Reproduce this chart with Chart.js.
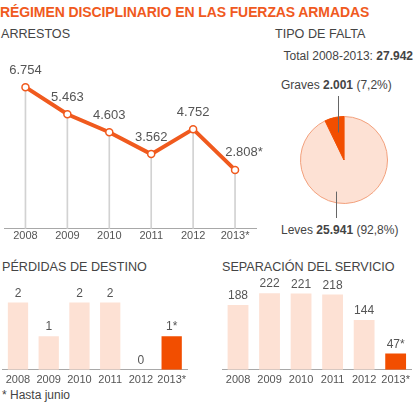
<!DOCTYPE html>
<html lang="es">
<head>
<meta charset="utf-8">
<script src="https://cdn.jsdelivr.net/npm/chart.js@4.4.0/dist/chart.umd.min.js"></script>
<style>
  body {
    margin: 0;
    width: 414px;
    height: 405px;
    position: relative;
    overflow: hidden;
    background: #fff;
    font-family: "Liberation Sans", Arial, sans-serif;
    color: #444;
  }
  .txt { position: absolute; white-space: nowrap; line-height: 16px; }
  .title { left: 0; top: 4px; font-size: 14px; font-weight: bold; color: #f05a1e; letter-spacing: -0.1px; }
  .head { font-size: 12.6px; color: #444; }
  .small { font-size: 12px; color: #444; }
  canvas { position: absolute; }
</style>
</head>
<body>
<div class="txt title">RÉGIMEN DISCIPLINARIO EN LAS FUERZAS ARMADAS</div>
<div class="txt head" style="left:1px;top:26px">ARRESTOS</div>
<div class="txt head" style="left:275px;top:26px">TIPO DE FALTA</div>
<div class="txt small" id="total" style="right:1px;top:48px"></div>
<div class="txt small" id="gravesLabel" style="left:281px;top:77px"></div>
<div class="txt small" id="levesLabel" style="left:281px;top:222px"></div>
<div class="txt head" style="left:2px;top:259px">PÉRDIDAS DE DESTINO</div>
<div class="txt head" style="left:222px;top:259px">SEPARACIÓN DEL SERVICIO</div>
<div class="txt small" style="left:2px;top:387px">* Hasta junio</div>

<canvas id="arrestChart" width="269" height="184" style="left:-1px;top:60px"></canvas>
<canvas id="faltaChart" width="128" height="128" style="left:280px;top:96px"></canvas>
<canvas id="destinoChart" width="188" height="116" style="left:2px;top:275px"></canvas>
<canvas id="separacionChart" width="192" height="116" style="left:222px;top:275px"></canvas>

<script>
const years = ["2008", "2009", "2010", "2011", "2012", "2013*"];
const arrests = [6754, 5463, 4603, 3562, 4752, 2808];
const faltaTypes = ["Leves", "Graves"];
const faltaValues = [25941, 2001];
const faltaPercents = [92.8, 7.2];
const destinoLosses = [2, 1, 2, 2, 0, 1];
const serviceSeparations = [188, 222, 221, 218, 144, 47];

const palette = {
  orange: "#f05a1e",
  strong: "#f24e00",
  light: "#fde1d4",
  pieEdge: "#f2a07c",
  ink: "#555",
  axis: "#a8a8a8",
  drop: "#d2d2d2",
};

const dotFormatter = new Intl.NumberFormat("de-DE");
const commaFormatter = new Intl.NumberFormat("de-DE", { minimumFractionDigits: 1, maximumFractionDigits: 1 });

Chart.defaults.font.family = '"Liberation Sans", Arial, sans-serif';
Chart.defaults.animation = false;

function withMark(values) {
  return values.map((v, i) => dotFormatter.format(v) + (years[i].endsWith("*") ? "*" : ""));
}

// draws the numbers above each bar / point
const valueLabels = {
  id: "valueLabels",
  afterDatasetsDraw(chart, args, opts) {
    if (!opts.texts) return;
    const meta = chart.getDatasetMeta(opts.datasetIndex || 0);
    const ctx = chart.ctx;
    ctx.save();
    ctx.font = opts.font;
    ctx.fillStyle = palette.ink;
    ctx.textAlign = "center";
    ctx.textBaseline = "middle";
    meta.data.forEach((el, i) => {
      const shift = i === meta.data.length - 1 ? opts.lastShift || 0 : 0;
      ctx.fillText(opts.texts[i], el.x + shift, el.y - opts.gap);
    });
    ctx.restore();
  },
};

// leader lines for the pie labels
const pieLeaders = {
  id: "pieLeaders",
  afterDatasetsDraw(chart, args, opts) {
    if (!opts.enabled) return;
    const arcs = chart.getDatasetMeta(0).data;
    const ctx = chart.ctx;
    ctx.save();
    ctx.strokeStyle = "#666";
    ctx.lineWidth = 1;

    const graves = arcs[1];
    const gMid = (graves.startAngle + graves.endAngle) / 2;
    const gx = graves.x + Math.cos(gMid) * graves.outerRadius * 0.65;
    const gy = graves.y + Math.sin(gMid) * graves.outerRadius * 0.65;
    ctx.beginPath();
    ctx.moveTo(Math.round(gx) + 0.5, 0);
    ctx.lineTo(Math.round(gx) + 0.5, gy);
    ctx.stroke();

    const leves = arcs[0];
    const lAng = Math.PI * 0.58;
    const lx = leves.x + Math.cos(lAng) * leves.outerRadius * 0.75;
    const ly = leves.y + Math.sin(lAng) * leves.outerRadius * 0.75;
    ctx.beginPath();
    ctx.moveTo(Math.round(lx) + 0.5, ly);
    ctx.lineTo(Math.round(lx) + 0.5, chart.height - 6);
    ctx.stroke();
    ctx.restore();
  },
};

Chart.register(valueLabels, pieLeaders);

function yearAxis(padding) {
  return {
    grid: { display: false, drawTicks: false },
    border: { display: true, color: palette.axis, width: 1 },
    ticks: { color: palette.ink, font: { size: 11 }, padding, maxRotation: 0, autoSkip: false },
  };
}

function renderArrests() {
  new Chart(document.getElementById("arrestChart"), {
    data: {
      labels: years,
      datasets: [
        {
          type: "line",
          data: arrests,
          borderColor: palette.orange,
          borderWidth: 4,
          tension: 0,
          pointRadius: 3.5,
          pointBorderWidth: 1.5,
          pointBackgroundColor: "#fff",
          pointBorderColor: palette.orange,
          order: 0,
        },
        {
          type: "bar",
          data: arrests,
          backgroundColor: palette.drop,
          barThickness: 1,
          order: 1,
        },
      ],
    },
    options: {
      responsive: false,
      layout: { padding: { top: 22, left: 0, right: 12, bottom: 0 } },
      plugins: {
        legend: { display: false },
        tooltip: { enabled: false },
        valueLabels: { texts: withMark(arrests), font: "13px 'Liberation Sans', Arial", gap: 17, lastShift: 9 },
      },
      scales: {
        x: yearAxis(1),
        y: { display: false, min: 0, max: 7000 },
      },
    },
  });
}

function renderFalta() {
  document.getElementById("total").innerHTML =
    `Total 2008-2013: <b>${dotFormatter.format(faltaValues[0] + faltaValues[1])}</b>`;
  document.getElementById("gravesLabel").innerHTML =
    `${faltaTypes[1]} <b>${dotFormatter.format(faltaValues[1])}</b> (${commaFormatter.format(faltaPercents[1])}%)`;
  document.getElementById("levesLabel").innerHTML =
    `${faltaTypes[0]} <b>${dotFormatter.format(faltaValues[0])}</b> (${commaFormatter.format(faltaPercents[0])}%)`;

  new Chart(document.getElementById("faltaChart"), {
    type: "pie",
    data: {
      labels: faltaTypes,
      datasets: [
        {
          data: faltaValues,
          backgroundColor: [palette.light, palette.strong],
          borderColor: [palette.pieEdge, palette.strong],
          borderWidth: 1,
        },
      ],
    },
    options: {
      responsive: false,
      layout: { padding: 20 },
      plugins: {
        legend: { display: false },
        tooltip: { enabled: false },
        pieLeaders: { enabled: true },
      },
    },
  });
}

function renderBars(canvasId, values, max) {
  new Chart(document.getElementById(canvasId), {
    type: "bar",
    data: {
      labels: years,
      datasets: [
        {
          data: values,
          backgroundColor: years.map((y) => (y.endsWith("*") ? palette.strong : palette.light)),
          barPercentage: 0.66,
          categoryPercentage: 1,
        },
      ],
    },
    options: {
      responsive: false,
      layout: { padding: { top: 14, left: 0, right: 0, bottom: 0 } },
      plugins: {
        legend: { display: false },
        tooltip: { enabled: false },
        valueLabels: { texts: withMark(values), font: "12px 'Liberation Sans', Arial", gap: 9 },
      },
      scales: {
        x: yearAxis(4),
        y: { display: false, min: 0, max },
      },
    },
  });
}

renderArrests();
renderFalta();
renderBars("destinoChart", destinoLosses, 2.4);
renderBars("separacionChart", serviceSeparations, 234);
</script>
</body>
</html>
